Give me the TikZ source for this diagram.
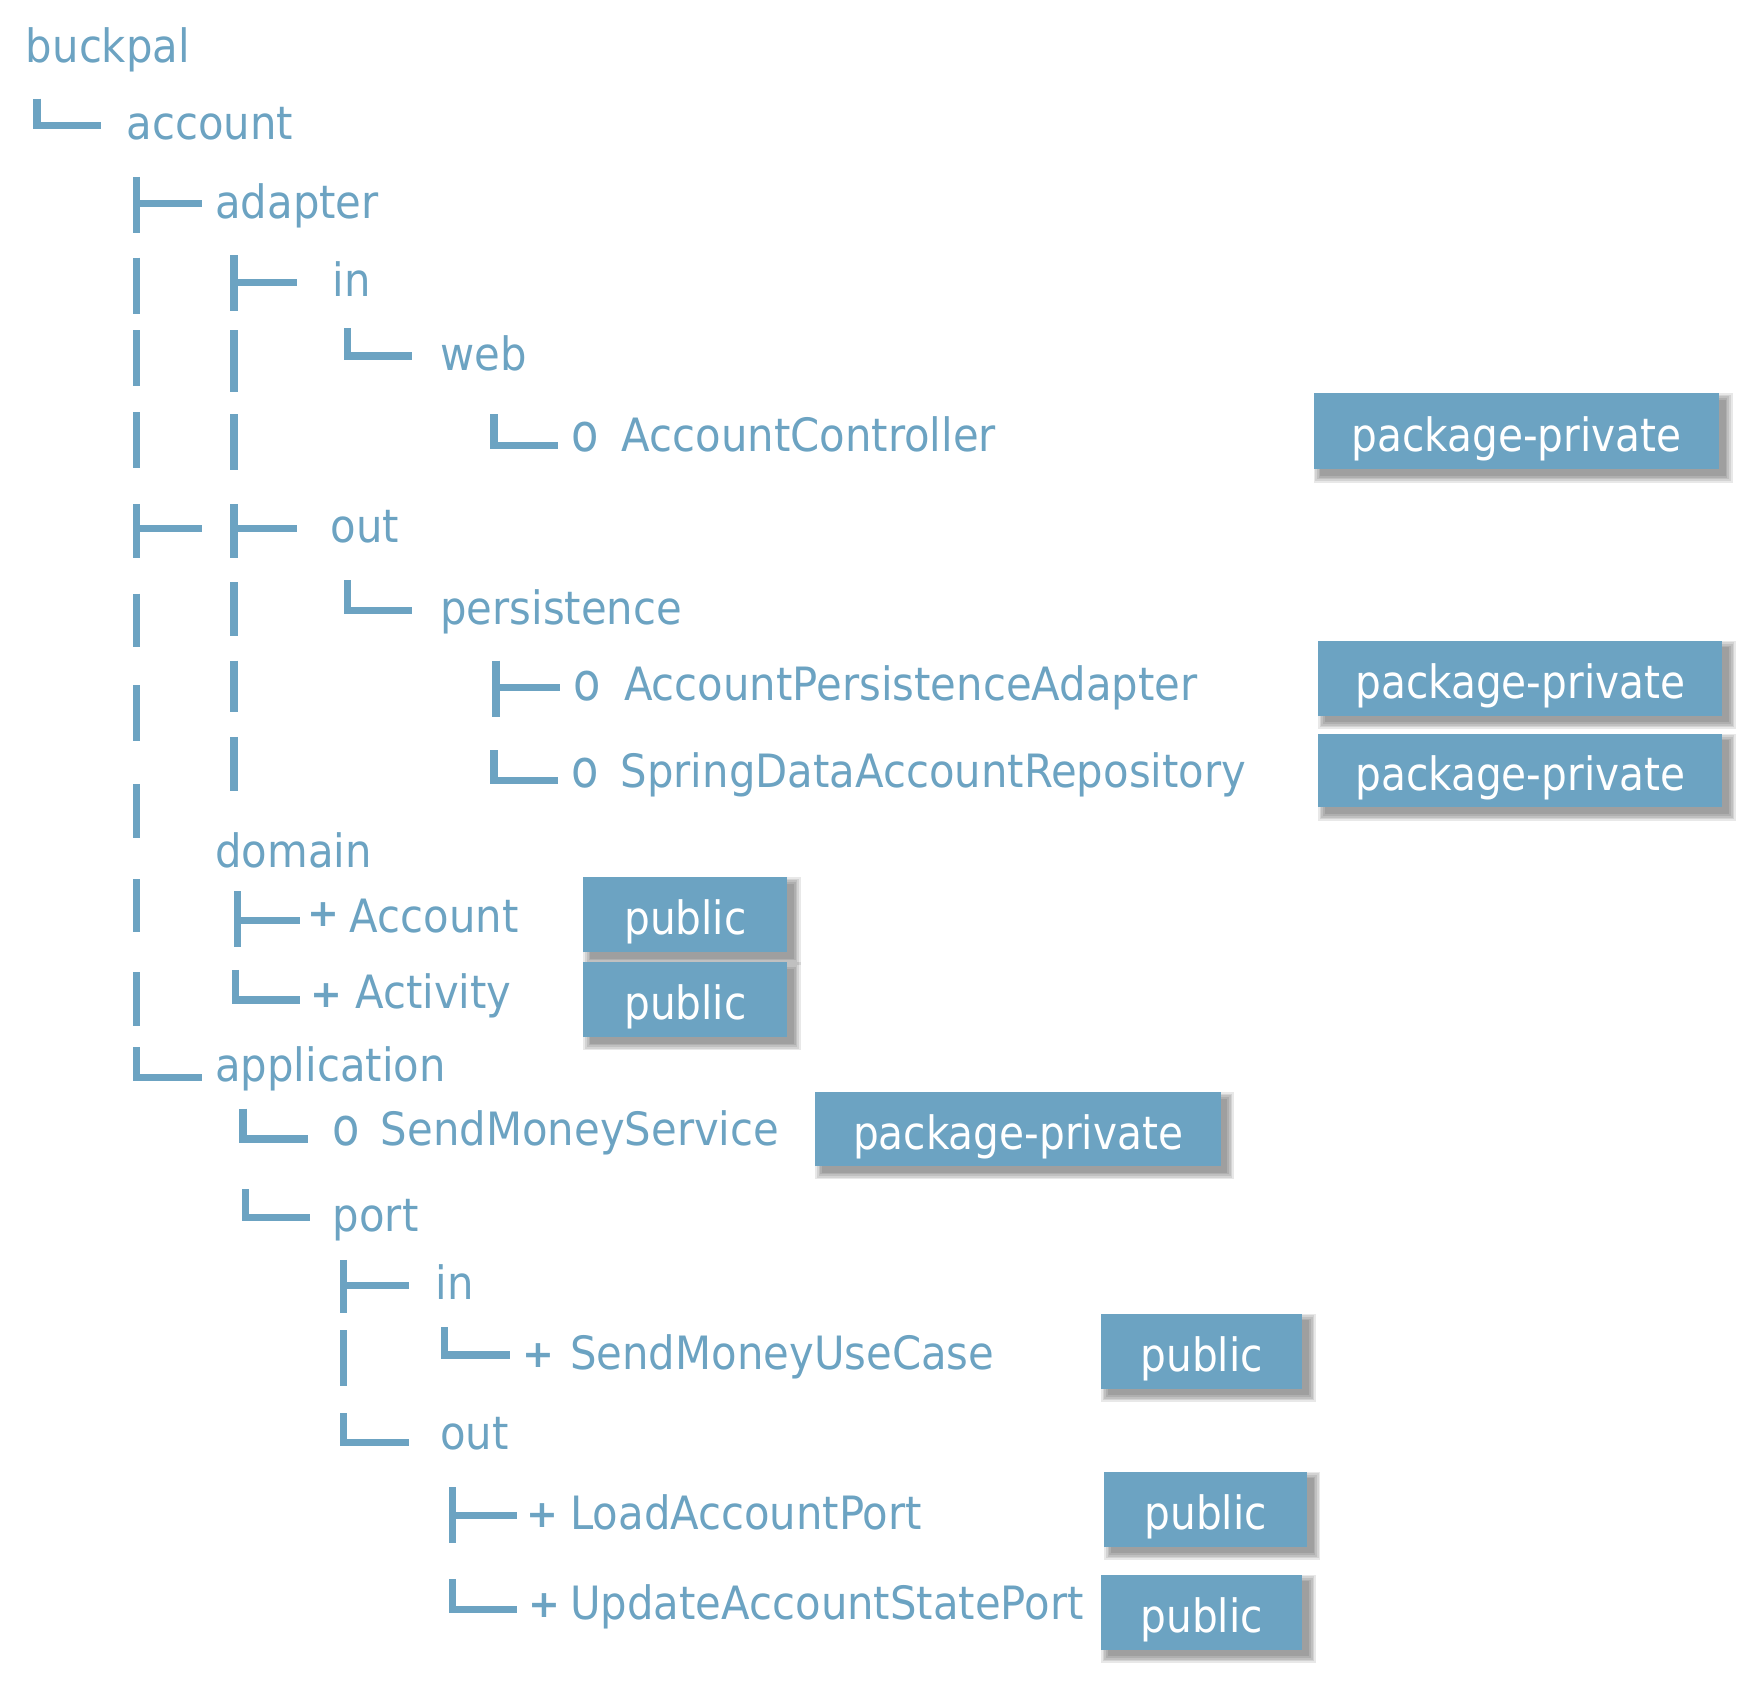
\documentclass[tikz,border=0pt]{standalone}
\usepackage{fontspec}
\setmainfont{DejaVu Sans}
\newfontfamily\treefont[FakeStretch=0.91]{DejaVu Sans}
\newfontfamily\tagfont[FakeStretch=0.885]{DejaVu Sans}
\newfontfamily\markfont[FakeStretch=0.85]{DejaVu Sans}
\definecolor{tc}{RGB}{108,163,194}
\newcommand\lastbr[4]{\draw[ln] (#1,#2) |- (#4,#3);}
\newcommand\midbr[5]{\draw[ln] (#1,#2) -- (#1,#3); \draw[ln] (#1,#4) -- (#5,#4);}
\newcommand\vbar[3]{\draw[ln] (#1,#2) -- (#1,#3);}
\newcommand\tagbox[6]{%
  \foreach \e in {0,1.5,3,4.5,6}{
    \fill[black,opacity=.09] (#2+6-\e,#3+6-\e) rectangle (#4+6+\e,#5+6+\e);}
  \fill[tc] (#2,#3) rectangle (#4,#5);
  \node[tagtext] (#1) at ({(#2+#4)/2},{(#3+#5)/2}) {#6};}
\begin{document}
\begin{tikzpicture}[x=1pt,y=-1pt,
  lbl/.style={anchor=mid west, inner sep=0pt, text=tc, font=\treefont\fontsize{41}{48}\selectfont},
  omark/.style={anchor=mid west, inner sep=0pt, text=tc, font=\markfont\fontsize{47}{52}\selectfont},
  pmark/.style={anchor=mid west, inner sep=0pt, text=tc, font=\fontsize{34}{40}\selectfont\bfseries},
  ln/.style={draw=tc, line width=6.5pt, line join=miter, line cap=butt},
  tagtext/.style={inner sep=0pt, text=white, font=\tagfont\fontsize{41}{48}\selectfont, text height=44pt, text depth=8pt}]
\useasboundingbox (0,0) rectangle (1568,1507);
% --- tree lines ---
\lastbr{33}{88}{112}{90}
\midbr{122}{158}{208}{182}{180}
\vbar{122}{230}{280}\vbar{122}{295}{345}\vbar{122}{368}{418}
\midbr{122}{450}{498}{472}{180}
\vbar{122}{530}{578}\vbar{122}{612}{662}\vbar{122}{700}{748}\vbar{122}{785}{832}\vbar{122}{868}{916}
\lastbr{122}{935}{962}{180}
\midbr{209}{228}{278}{252}{265}
\vbar{209}{295}{350}\vbar{209}{370}{420}
\midbr{209}{450}{498}{472}{265}
\vbar{209}{520}{568}\vbar{209}{590}{636}\vbar{209}{658}{706}
\lastbr{310}{293}{318}{368}
\lastbr{441}{370}{398}{498}
\lastbr{310}{518}{545}{368}
\midbr{443}{590}{640}{614}{500}
\lastbr{441}{670}{697}{498}
\midbr{212}{796}{846}{822}{268}
\lastbr{210}{866}{893}{268}
\lastbr{217}{990}{1017}{275}
\lastbr{219}{1062}{1087}{277}
\midbr{307}{1125}{1172}{1148}{365}
\vbar{307}{1188}{1238}
\lastbr{307}{1262}{1288}{365}
\lastbr{397}{1185}{1210}{455}
\midbr{404}{1328}{1378}{1353}{462}
\lastbr{404}{1410}{1437}{462}
% --- labels ---
\node[lbl] (buckpal) at (23,53) {buckpal};
\node[lbl] (account) at (113,122) {account};
\node[lbl] (adapter) at (192,192) {adapter};
\node[lbl] (adin) at (297,262) {in};
\node[lbl] (web) at (393,328) {web};
\node[omark] (m1) at (510,400) {o};
\node[lbl] (ac) at (555,400) {AccountController};
\node[lbl] (adout) at (295,482) {out};
\node[lbl] (pers) at (393,555) {persistence};
\node[omark] (m2) at (512,623) {o};
\node[lbl] (apa) at (557,623) {AccountPersistenceAdapter};
\node[omark] (m3) at (510,700) {o};
\node[lbl] (sdar) at (554,700) {SpringDataAccountRepository};
\node[lbl] (domain) at (192,772) {domain};
\node[pmark] (p1) at (274,825) {+};
\node[lbl] (acct) at (312,830) {Account};
\node[pmark] (p2) at (277,897) {+};
\node[lbl] (act) at (317,898) {Activity};
\node[lbl] (appl) at (192,963) {application};
\node[omark] (m4) at (297,1020) {o};
\node[lbl] (sms) at (340,1020) {SendMoneyService};
\node[lbl] (port) at (297,1097) {port};
\node[lbl] (pin) at (389,1158) {in};
\node[pmark] (p3) at (466,1218) {+};
\node[lbl] (smuc) at (509,1220) {SendMoneyUseCase};
\node[lbl] (pout) at (393,1292) {out};
\node[pmark] (p4) at (470,1361) {+};
\node[lbl] (lap) at (509,1363) {LoadAccountPort};
\node[pmark] (p5) at (472,1442) {+};
\node[lbl] (uasp) at (509,1443) {UpdateAccountStatePort};
% --- visibility tags ---
\tagbox{t1}{1173}{351}{1535}{419}{package-private}
\tagbox{t2}{1177}{572}{1538}{639}{package-private}
\tagbox{t3}{1177}{655}{1538}{721}{package-private}
\tagbox{t4}{521}{783}{703}{850}{public}
\tagbox{t5}{521}{859}{703}{926}{public}
\tagbox{t6}{728}{975}{1090}{1041}{package-private}
\tagbox{t7}{983}{1173}{1163}{1240}{public}
\tagbox{t8}{986}{1314}{1167}{1381}{public}
\tagbox{t9}{983}{1406}{1163}{1473}{public}
\end{tikzpicture}
\end{document}
